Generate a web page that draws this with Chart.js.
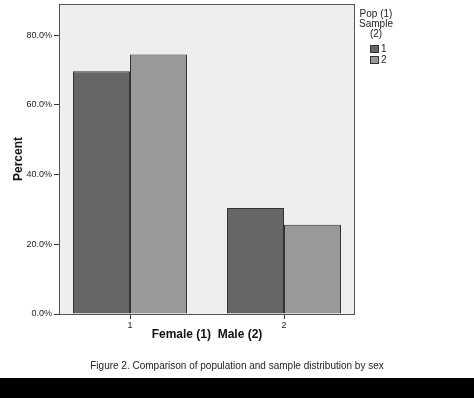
<!DOCTYPE html>
<html>
<head>
<meta charset="utf-8">
<script src="https://cdn.jsdelivr.net/npm/chart.js@4"></script>
<style>
  html, body { margin: 0; padding: 0; background: #fff; }
  #wrap { position: relative; width: 474px; height: 398px; overflow: hidden; }
  #c { position: absolute; left: 0; top: 0; }
  #caption { position: absolute; left: 0; width: 474px; top: 360px; text-align: center;
    font-family: "Liberation Sans", Arial, sans-serif; font-size: 10px; color: #222; }
  #bar { position: absolute; left: 0; top: 378px; width: 474px; height: 20px; background: #000; }
</style>
</head>
<body>
<div id="wrap">
  <canvas id="c" width="474" height="378"></canvas>
  <div id="caption">Figure 2. Comparison of population and sample distribution by sex</div>
  <div id="bar"></div>
</div>
<script>
const categories = [1, 2];
const seriesNames = ['1', '2'];
const popValues = [69.6, 30.4];
const sampleValues = [74.4, 25.6];
const yTicks = [0, 20, 40, 60, 80];
const legendTitle = ['Pop (1)', 'Sample', '(2)'];
const xTitle = 'Female (1)  Male (2)';
const yTitle = 'Percent';

const FONT = '"Liberation Sans", Arial, sans-serif';

const frame = {
  id: 'frame',
  beforeDatasetsDraw(chart) {
    const {ctx, chartArea: a} = chart;
    ctx.save();
    ctx.fillStyle = '#eeeeee';
    ctx.fillRect(a.left, a.top, a.right - a.left, a.bottom - a.top);
    ctx.restore();
  },
  afterDatasetsDraw(chart) {
    const {ctx, chartArea: a} = chart;
    ctx.save();
    ctx.strokeStyle = '#555555';
    ctx.lineWidth = 1;
    ctx.strokeRect(a.left + 0.5, a.top + 0.5, a.right - a.left - 1, a.bottom - a.top);
    ctx.restore();
  },
  afterDraw(chart) {
    const {ctx} = chart;
    ctx.save();
    ctx.fillStyle = '#222';
    ctx.font = '10px ' + FONT;
    ctx.textAlign = 'center';
    ctx.textBaseline = 'middle';
    legendTitle.forEach((t, i) => ctx.fillText(t, 376, 14.5 + i * 10));
    chart.data.datasets.forEach((ds, i) => {
      const y = 45 + i * 11;
      ctx.fillStyle = ds.backgroundColor;
      ctx.fillRect(370, y, 9, 8);
      ctx.strokeStyle = '#333';
      ctx.strokeRect(370.5, y + 0.5, 8, 7);
      ctx.fillStyle = '#222';
      ctx.textAlign = 'left';
      ctx.fillText(ds.label, 381, y + 4.5);
    });
    ctx.restore();
  }
};

new Chart(document.getElementById('c'), {
  type: 'bar',
  data: {
    labels: categories,
    datasets: [
      { label: seriesNames[0], data: popValues, backgroundColor: '#666666', borderColor: '#333333', borderWidth: 1 },
      { label: seriesNames[1], data: sampleValues, backgroundColor: '#999999', borderColor: '#333333', borderWidth: 1 }
    ]
  },
  options: {
    responsive: false,
    animation: false,
    events: [],
    layout: { padding: { left: 0, top: 4, right: 119, bottom: 34 } },
    plugins: { legend: { display: false }, tooltip: { enabled: false } },
    datasets: { bar: { barPercentage: 1, categoryPercentage: 114 / 154 } },
    scales: {
      x: {
        type: 'linear',
        min: 1 - 71 / 154,
        max: 2 + 71 / 154,
        offset: false,
        afterFit(s) { s.height = 30; s.paddingLeft = 0; s.paddingRight = 0; },
        afterBuildTicks(s) { s.ticks = categories.map(v => ({ value: v })); },
        grid: { display: true, offset: false, drawOnChartArea: false, drawTicks: true, tickLength: 5, color: '#333', tickColor: '#333' },
        border: { display: false },
        ticks: { color: '#222', font: { family: FONT, size: 9 }, padding: 1, maxRotation: 0,
                 callback: v => String(v) },
        title: { display: true, text: xTitle, color: '#111', font: { family: FONT, size: 12, weight: 'bold' }, padding: { top: 0, bottom: 2 } }
      },
      y: {
        min: 0,
        max: 88.9,
        afterFit(s) { s.width = 59; s.paddingTop = 0; s.paddingBottom = 0; },
        afterBuildTicks(s) { s.ticks = yTicks.map(v => ({ value: v })); },
        grid: { display: true, drawOnChartArea: false, drawTicks: true, tickLength: 5, color: '#333', tickColor: '#333' },
        border: { display: false },
        ticks: { color: '#222', font: { family: FONT, size: 9 }, padding: 2,
                 callback: v => v.toFixed(1) + '%' },
        title: { display: true, text: yTitle, color: '#111', font: { family: FONT, size: 12, weight: 'bold' }, padding: { top: 11, bottom: 0 } }
      }
    }
  },
  plugins: [frame]
});
</script>
</body>
</html>
